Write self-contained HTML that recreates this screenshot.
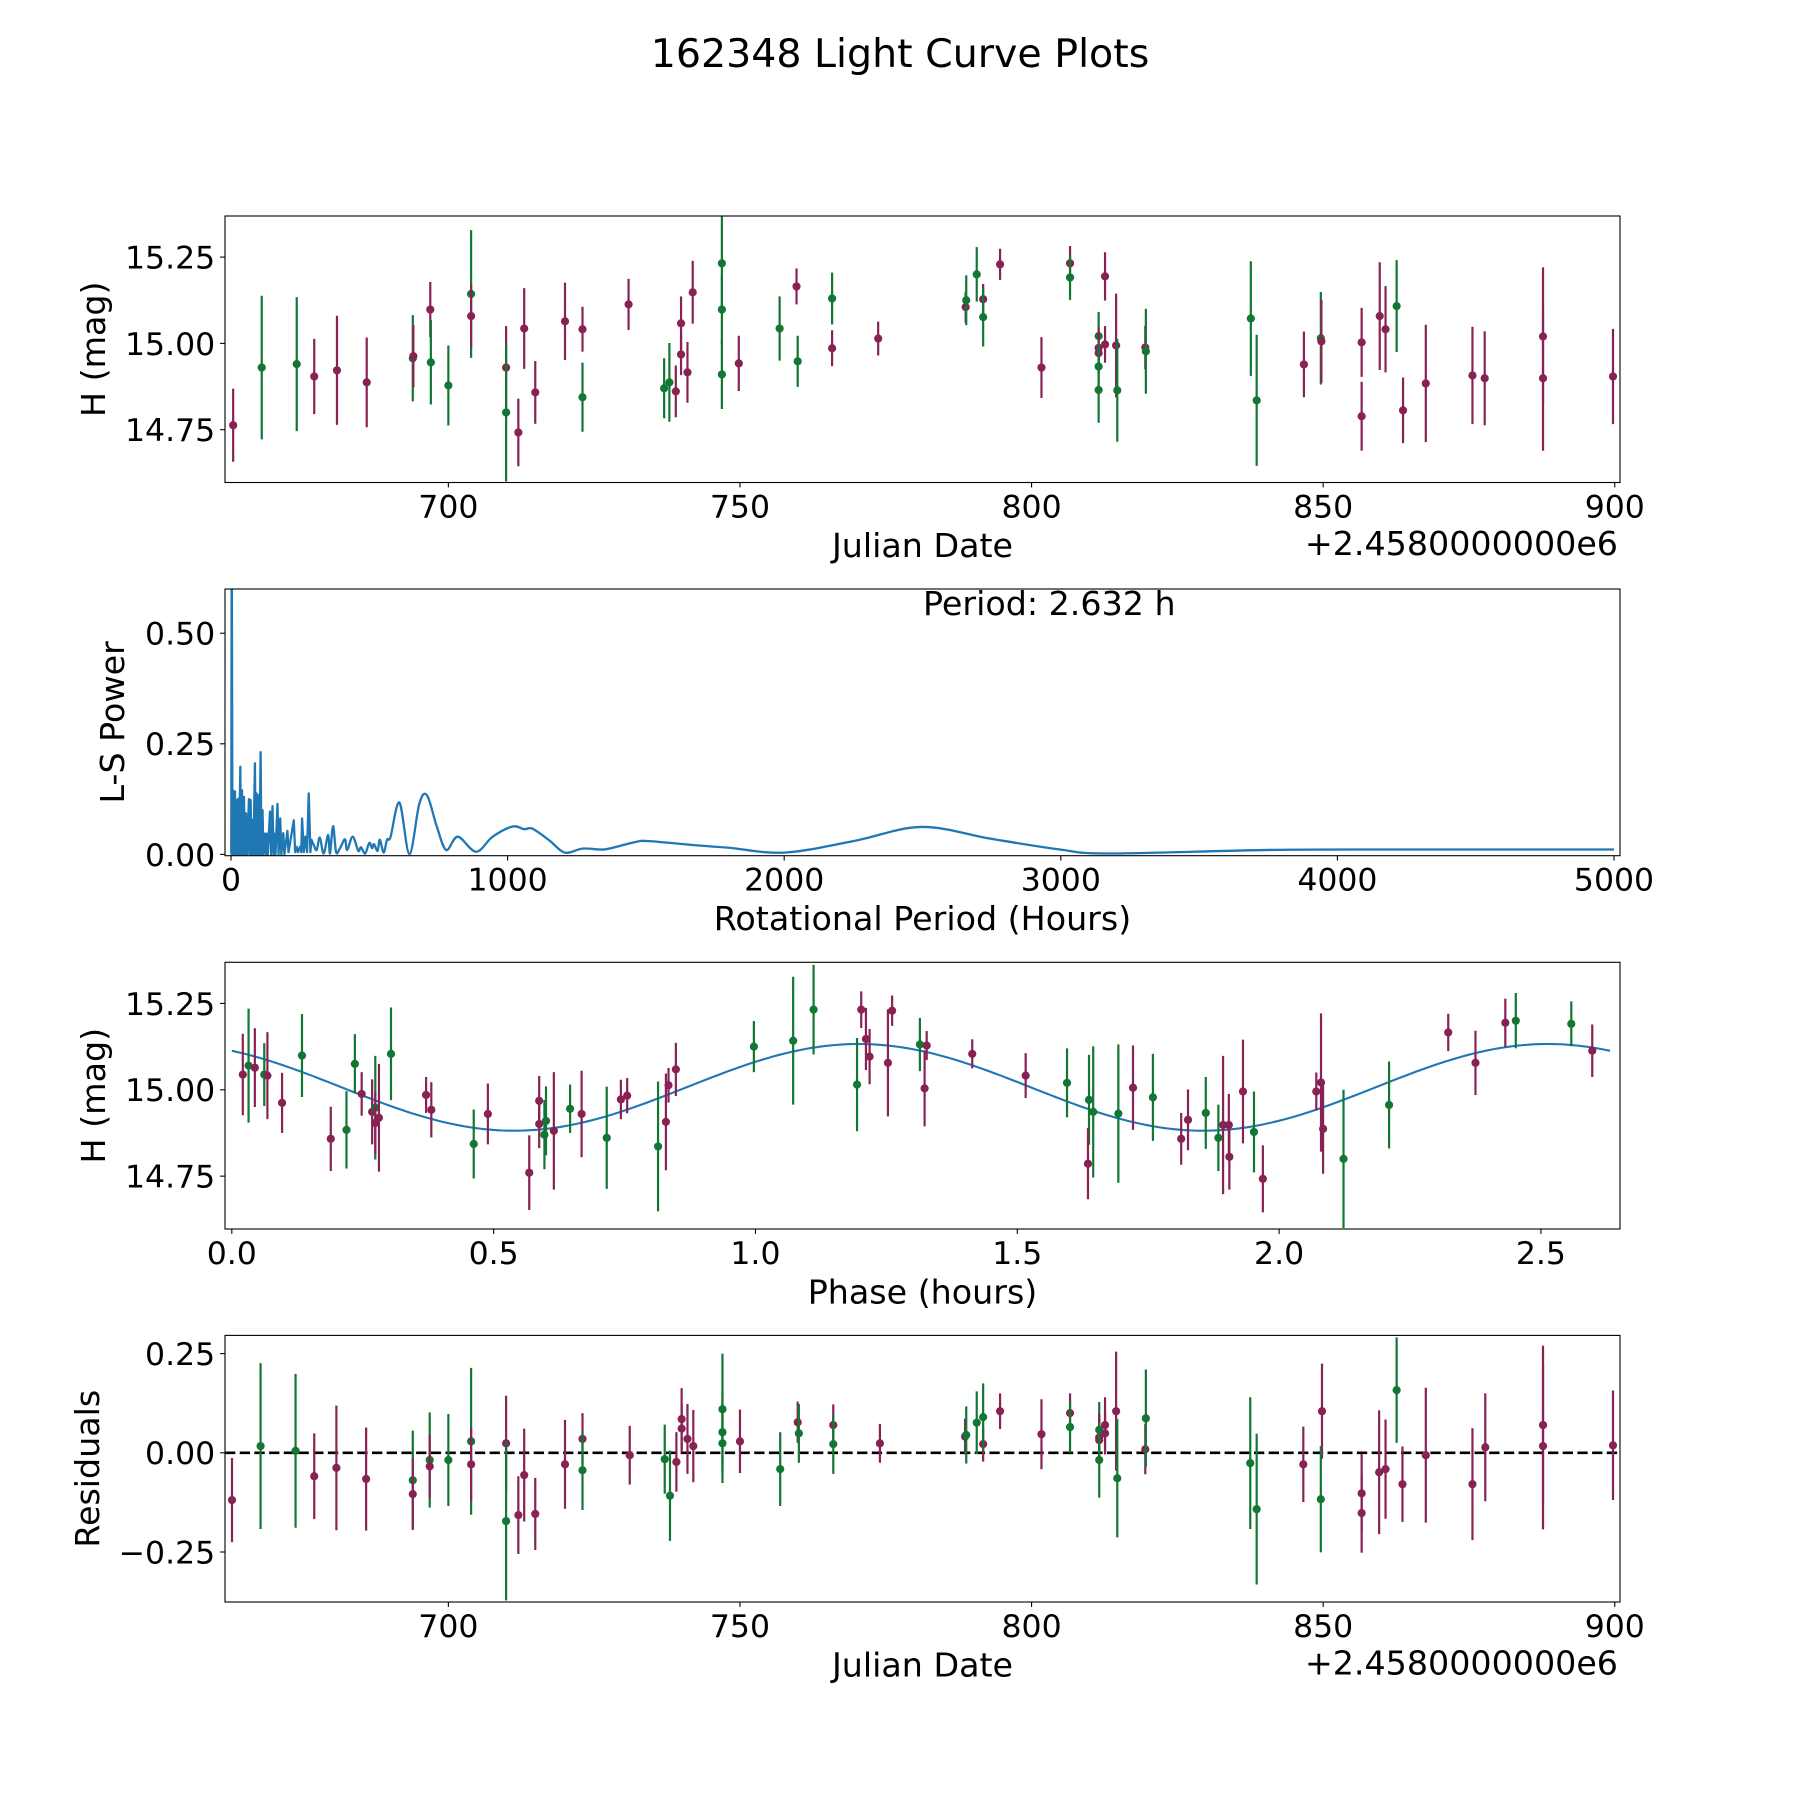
<!DOCTYPE html>
<html><head><meta charset="utf-8"><title>162348 Light Curve Plots</title>
<style>
html,body{margin:0;padding:0;background:#fff;}
svg{display:block;font-family:"DejaVu Sans","Liberation Sans",sans-serif;}
</style></head>
<body>
<svg id="fig" xmlns="http://www.w3.org/2000/svg" width="1800" height="1800" viewBox="0 0 1800 1800">
<rect x="0" y="0" width="1800" height="1800" fill="#fff"/>
<text x="900" y="67" font-size="39.5" text-anchor="middle" fill="#000">162348 Light Curve Plots</text>
</svg>
<script>
// ---------- Panel 1: light curve ----------
const lcDays = [663.1,668.0,674.0,677.0,680.9,686.0,693.9,694.0,696.9,697.0,700.0,703.9,703.9,709.9,709.9,712.0,713.0,714.9,720.0,723.0,723.0,730.9,737.0,737.9,739.0,739.9,739.9,741.0,741.9,746.9,746.9,746.9,749.8,756.8,759.7,759.9,765.8,765.8,773.7,788.7,788.8,790.6,791.7,791.7,794.6,801.7,806.6,806.6,811.5,811.5,811.5,811.5,811.5,812.6,812.6,814.5,814.7,819.5,819.6,837.6,838.6,846.7,849.6,849.7,856.6,856.6,859.7,860.7,862.6,863.7,867.6,875.6,877.7,887.7,887.7,899.7];
const lcMags = [14.763,14.930,14.940,14.904,14.922,14.887,14.957,14.963,15.098,14.945,14.878,15.143,15.079,14.930,14.800,14.742,15.043,14.858,15.064,15.041,14.844,15.113,14.870,14.887,14.861,15.058,14.968,14.916,15.148,15.232,15.098,14.910,14.942,15.043,15.165,14.948,15.130,14.986,15.014,15.105,15.125,15.200,15.128,15.076,15.229,14.930,15.232,15.191,15.021,14.987,14.972,14.933,14.865,15.194,14.997,14.994,14.864,14.988,14.977,15.072,14.835,14.939,15.015,15.006,15.003,14.789,15.079,15.041,15.108,14.806,14.884,14.907,14.899,15.020,14.899,14.904];
const lcErrs = [.106,.208,.194,.109,.158,.130,.125,.090,.080,.122,.116,.185,.092,.120,.200,.098,.117,.091,.112,.065,.100,.074,.087,.114,.075,.078,.060,.088,.091,.140,.100,.100,.080,.093,.052,.074,.075,.052,.049,.045,.072,.079,.044,.085,.045,.088,.050,.065,.070,.060,.060,.070,.095,.070,.053,.150,.149,.063,.123,.166,.190,.095,.134,.120,.100,.100,.156,.125,.133,.095,.170,.141,.136,.200,.210,.138];
const lcBand = "MGGMMMGMMGGGMMGMMMMMGMGGMMMMMGGGMGMGGMMMGGMGMMMGGMMGGMMMGMGGGMGMMMMMGMMMMMMM";

// ---------- Panel 2: periodogram ----------
const lsPeriods = [0,1,2.5,4,5,8.4,10,14.4,16,20.4,22,26.4,29,33.7,36,39.7,42,46.9,50,54.1,58,64.9,67,70.9,74,78.1,81,86.5,89,92.5,95,99.8,103,107,110,114,117,123,126,129,133,141,145,150,154,157,161,168,172,178,182,189,193,204,208,227,232,237,242,249,254,257,263,269,275,281,287,291,300,310,321,335,351,358,369,380,394,412,420,440,460,470,485,500,510,517,530,538,552,564,577,609,645,681,709,744,778,820,886,946,1018,1060,1090,1150,1207,1270,1334,1367,1463,1511,1691,1800,2000,2250,2496,2750,2997,3174,3755,4240,5000];
const lsPower = [0,0,0.75,0.364,0,0.144,0,0.142,0,0.123,0,0.126,0,0.198,0,0.145,0,0.130,0,0.093,0,0.125,0,0.123,0,0.078,0,0.206,0,0.138,0,0.134,0,0.231,0,0.100,0,0.047,0,0.047,0,0.097,0,0.109,0,0.047,0,0.114,0,0.081,0,0.048,0,0.053,0.005,0.077,0.005,0.017,0.005,0.017,0.005,0.081,0.005,0.040,0.005,0.138,0.005,0.033,0.02,0.01,0.038,0.002,0.044,0.002,0.064,0.005,0.014,0.034,0.01,0.040,0.008,0.016,0.002,0.026,0.014,0.023,0.008,0.033,0.004,0.033,0.040,0.117,0.001,0.115,0.133,0.063,0.010,0.040,0.006,0.040,0.063,0.057,0.058,0.032,0.004,0.013,0.011,0.013,0.028,0.030,0.020,0.015,0.004,0.030,0.062,0.035,0.011,0.002,0.010,0.011,0.011];
const bestPeriodLabel = "Period: 2.632 h";

// ---------- Panel 3: phased curve ----------
const phPhase = [.021,.032,.044,.062,.068,.096,.134,.189,.219,.235,.248,.268,.274,.274,.281,.304,.371,.381,.462,.489,.568,.587,.587,.597,.600,.615,.646,.668,.716,.743,.755,.814,.829,.834,.848,.997,1.072,1.111,1.194,1.202,1.211,1.218,1.253,1.261,1.314,1.327,1.323,1.414,1.516,1.595,1.637,1.635,1.645,1.693,1.721,1.759,1.813,1.826,1.860,1.884,1.893,1.904,1.905,1.931,1.952,1.969,2.071,2.080,2.084,2.123,2.210,2.323,2.375,2.432,2.452,2.558,2.598];
const phMags = [15.044,15.070,15.064,15.044,15.041,14.962,15.099,14.858,14.884,15.075,14.988,14.936,14.948,14.904,14.919,15.104,14.985,14.942,14.843,14.930,14.760,14.968,14.901,14.870,14.910,14.881,14.945,14.930,14.861,14.972,14.983,14.836,14.907,15.013,15.059,15.125,15.142,15.232,15.015,15.232,15.147,15.096,15.078,15.229,15.131,15.128,15.004,15.104,15.041,15.020,14.971,14.786,14.936,14.931,15.006,14.978,14.858,14.913,14.933,14.861,14.898,14.898,14.806,14.995,14.878,14.742,14.995,15.021,14.887,14.800,14.956,15.166,15.078,15.194,15.200,15.191,15.113];
const phErrs = [.118,.165,.114,.091,.126,.087,.120,.093,.112,.086,.063,.094,.150,.090,.156,.134,.052,.080,.100,.088,.108,.072,.070,.100,.100,.170,.070,.125,.148,.057,.051,.188,.140,.050,.077,.074,.185,.130,.135,.053,.090,.080,.155,.044,.077,.042,.110,.042,.065,.100,.130,.103,.190,.200,.122,.126,.075,.088,.104,.096,.200,.090,.095,.150,.117,.097,.055,.200,.130,.200,.126,.054,.093,.070,.080,.065,.076];
const phBand = "MGMGMMGMGGMMGMMGMMGMMMMGGMGMGMMGMMMGGGGMMMMMGMMMMGGMGGMGMMGGMMMMGMMMMGGMMMGGM";
const fitMean = 15.007, fitAmp = 0.1255, fitPeak = 1.197, fitPeriod = 2.632;

// ---------- Panel 4: residuals ----------
const rsDays = [662.9,667.8,673.8,677.0,680.8,685.9,693.9,693.9,696.8,696.8,700.0,703.9,703.9,709.9,709.9,712.0,713.0,714.9,720.0,723.0,723.0,731.1,737.1,738.0,739.1,740.0,740.0,741.0,742.0,747.0,747.0,747.0,750.0,756.9,759.9,760.1,766.0,766.0,774.0,788.6,788.8,790.6,791.7,791.7,794.6,801.7,806.6,806.6,811.6,811.6,811.6,811.6,812.6,812.6,814.5,814.7,819.5,819.6,837.5,838.6,846.6,849.8,849.6,856.6,856.6,859.6,860.7,862.6,863.6,867.6,875.6,877.8,887.7,887.7,899.7];
const rsVals = [-.119,.017,.005,-.059,-.038,-.066,-.069,-.104,-.018,-.034,-.018,.029,-.029,.024,-.172,-.157,-.056,-.154,-.029,.035,-.044,-.006,-.016,-.108,-.023,.085,.061,.035,.017,.110,.052,.024,.029,-.041,.077,.049,.070,.022,.024,.041,.045,.076,.022,.090,.105,.047,.100,.065,.058,.039,.032,-.018,.049,.070,.105,-.064,.009,.087,-.026,-.142,-.029,.105,-.117,-.102,-.152,-.049,-.041,.158,-.079,-.006,-.079,.014,.070,.017,.019];
const rsErrs = [.106,.209,.194,.108,.157,.130,.125,.090,.120,.080,.116,.185,.092,.120,.200,.098,.117,.091,.112,.065,.100,.074,.087,.114,.075,.078,.060,.088,.091,.140,.100,.100,.080,.093,.052,.074,.052,.075,.049,.045,.072,.079,.044,.085,.045,.088,.050,.065,.070,.060,.060,.095,.053,.070,.150,.149,.063,.123,.166,.190,.095,.120,.134,.100,.100,.156,.125,.133,.095,.170,.141,.136,.200,.210,.138];
const rsBand = "MGGMMMGMGMGGMMGMMMMMGMGGMMMMMGGGMGMGMGMMGGMGMMMGGMMGMMMGMGGGMMGMMMMGMMMMMMM";

const dateTicks = [700,750,800,850,900];
const magTicks = [14.75,15.00,15.25];
const magTickLabels = ["14.75","15.00","15.25"];
const periodTicks = [0,1000,2000,3000,4000,5000];
const powerTicks = [0,0.25,0.5];
const powerTickLabels = ["0.00","0.25","0.50"];
const phaseTicks = [0,0.5,1,1.5,2,2.5];
const phaseTickLabels = ["0.0","0.5","1.0","1.5","2.0","2.5"];
const resTicks = [-0.25,0,0.25];
const resTickLabels = ["\u22120.25","0.00","0.25"];

const NS = "http://www.w3.org/2000/svg";
const svg = document.getElementById('fig');
const COL = {M:"#882255", G:"#117733"};
const AX_L = 225, AX_R = 1620;
const TICK_FS = 31.5, LAB_FS = 33.3, OFF_FS = 33.3;

function mk(tag, attrs, parent){
  const e = document.createElementNS(NS, tag);
  for (const k in attrs) e.setAttribute(k, attrs[k]);
  (parent||svg).appendChild(e);
  return e;
}
function scale(d0,d1,r0,r1){ return v => r0 + (v-d0)*(r1-r0)/(d1-d0); }

function makeAxes(name, top, bot, xlim, ylim){
  const g = mk('g', {});
  
  
  const sx = scale(xlim[0], xlim[1], AX_L, AX_R);
  const sy = scale(ylim[0], ylim[1], bot, top);
  const cid = name + '-clip';
  const cp = mk('clipPath', {id: cid}, g);
  mk('rect', {x:AX_L, y:top, width:AX_R-AX_L, height:bot-top}, cp);
  const plot = mk('g', {'clip-path':'url(#'+cid+')'}, g);
  
  
  return {g, plot, sx, sy, top, bot};
}
function frame(ax){
  const r = mk('rect', {x:AX_L, y:ax.top, width:AX_R-AX_L, height:ax.bot-ax.top, fill:'none', stroke:'#000', 'stroke-width':1.1}, ax.g);
  
  
}
function xTicks(ax, ticks, labels, prefix){
  ticks.forEach((t,i) => {
    const x = ax.sx(t);
    mk('line', {x1:x, x2:x, y1:ax.bot, y2:ax.bot+4.9, stroke:'#000', 'stroke-width':1.1}, ax.g);
    const tx = mk('text', {x:x, y:ax.bot+35, 'font-size':TICK_FS, 'text-anchor':'middle', fill:'#000'}, ax.g);
    tx.textContent = labels[i];
    
    
  });
}
function yTicks(ax, ticks, labels, prefix){
  ticks.forEach((t,i) => {
    const y = ax.sy(t);
    mk('line', {x1:AX_L-4.9, x2:AX_L, y1:y, y2:y, stroke:'#000', 'stroke-width':1.1}, ax.g);
    const tx = mk('text', {x:AX_L-9.8, y:y+11.4, 'font-size':TICK_FS, 'text-anchor':'end', fill:'#000'}, ax.g);
    tx.textContent = labels[i];
    
    
  });
}
function xLabel(ax, txt, nm){
  const t = mk('text', {x:(AX_L+AX_R)/2, y:ax.bot+74.5, 'font-size':LAB_FS, 'text-anchor':'middle', fill:'#000'}, ax.g);
  t.textContent = txt;
  
  
}
function yLabel(ax, txt, bx, nm){
  const cy = (ax.top+ax.bot)/2;
  const t = mk('text', {x:bx, y:cy, 'font-size':LAB_FS, 'text-anchor':'middle', fill:'#000', transform:'rotate(-90 '+bx+' '+cy+')'}, ax.g);
  t.textContent = txt;
  
  
}
function offsetText(ax, nm){
  const t = mk('text', {x:1618, y:ax.bot+72.5, 'font-size':OFF_FS, 'text-anchor':'end', fill:'#000'}, ax.g);
  t.textContent = '+2.4580000000e6';
  
  
}
function errPoints(ax, xs, ys, es, bands, nm){
  for (let i=0;i<xs.length;i++){
    const c = COL[bands[i]];
    const x = ax.sx(xs[i]);
    const bar = mk('line', {x1:x, x2:x, y1:ax.sy(ys[i]-es[i]), y2:ax.sy(ys[i]+es[i]), stroke:c, 'stroke-width':2.2}, ax.plot);
    
    
    const dot = mk('circle', {cx:x, cy:ax.sy(ys[i]), r:4.1, fill:c}, ax.plot);
    
    
  }
}

// Panel 1
const ax1 = makeAxes('light-curve-panel', 216, 482.5, [661.7, 900.9], [14.597, 15.369]);
errPoints(ax1, lcDays, lcMags, lcErrs, lcBand, 'light-curve');
frame(ax1);
xTicks(ax1, dateTicks, dateTicks.map(String), 'julian-date');
yTicks(ax1, magTicks, magTickLabels, 'magnitude');
xLabel(ax1, 'Julian Date', 'julian-date-axis-title');
yLabel(ax1, 'H (mag)', 105, 'magnitude-axis-title');
offsetText(ax1, 'julian-date-offset');

// Panel 2 (spiky region straight segments, smooth region Catmull-Rom)
const ax2 = makeAxes('periodogram-panel', 589, 855.7, [-21.7, 5021.7], [-0.003, 0.6]);
const P = lsPeriods.map((p,i) => [ax2.sx(p), ax2.sy(lsPower[i])]);
let d = 'M' + P[0][0].toFixed(2) + ' ' + P[0][1].toFixed(2);
for (let i=1;i<P.length;i++){
  if (lsPeriods[i] <= 300){ d += 'L' + P[i][0].toFixed(2) + ' ' + P[i][1].toFixed(2); continue; }
  const p0 = P[Math.max(i-2,0)], p1 = P[i-1], p2 = P[i], p3 = P[Math.min(i+1,P.length-1)];
  const c1x = p1[0] + (p2[0]-p0[0])/6, c1y = p1[1] + (p2[1]-p0[1])/6;
  const c2x = p2[0] - (p3[0]-p1[0])/6, c2y = p2[1] - (p3[1]-p1[1])/6;
  d += 'C' + c1x.toFixed(2) + ' ' + Math.min(c1y, ax2.bot+1).toFixed(2) + ' ' + c2x.toFixed(2) + ' ' + Math.min(c2y, ax2.bot+1).toFixed(2) + ' ' + p2[0].toFixed(2) + ' ' + p2[1].toFixed(2);
}
const pl = mk('path', {d:d, fill:'none', stroke:'#1f77b4', 'stroke-width':2.3, 'stroke-linejoin':'round'}, ax2.plot);


frame(ax2);
xTicks(ax2, periodTicks, periodTicks.map(String), 'period');
yTicks(ax2, powerTicks, powerTickLabels, 'power');
xLabel(ax2, 'Rotational Period (Hours)', 'period-axis-title');
yLabel(ax2, 'L-S Power', 124, 'power-axis-title');
const pt = mk('text', {x:923, y:615, 'font-size':LAB_FS, fill:'#000'}, ax2.g);
pt.textContent = bestPeriodLabel;



// Panel 3
const ax3 = makeAxes('phase-panel', 962.3, 1229, [-0.013, 2.651], [14.597, 15.369]);
let fd = '';
for (let k=0;k<=300;k++){
  const p = fitPeriod*k/300;
  const m = fitMean + fitAmp*Math.cos(2*Math.PI*(p-fitPeak)/(fitPeriod/2));
  fd += (k?'L':'M') + ax3.sx(p).toFixed(2) + ' ' + ax3.sy(m).toFixed(2);
}
const fl = mk('path', {d:fd, fill:'none', stroke:'#1f77b4', 'stroke-width':2.1}, ax3.plot);


errPoints(ax3, phPhase, phMags, phErrs, phBand, 'phased');
frame(ax3);
xTicks(ax3, phaseTicks, phaseTickLabels, 'phase');
yTicks(ax3, magTicks, magTickLabels, 'phased-magnitude');
xLabel(ax3, 'Phase (hours)', 'phase-axis-title');
yLabel(ax3, 'H (mag)', 105, 'phased-magnitude-axis-title');

// Panel 4
const ax4 = makeAxes('residuals-panel', 1335.4, 1602, [661.7, 900.9], [-0.376, 0.296]);
const zl = mk('line', {x1:AX_L, x2:AX_R, y1:ax4.sy(0), y2:ax4.sy(0), stroke:'#000', 'stroke-width':2.6, 'stroke-dasharray':'10.3 4.4'}, ax4.plot);


errPoints(ax4, rsDays, rsVals, rsErrs, rsBand, 'residual');
frame(ax4);
xTicks(ax4, dateTicks, dateTicks.map(String), 'residual-date');
yTicks(ax4, resTicks, resTickLabels, 'residual');
xLabel(ax4, 'Julian Date', 'residual-date-axis-title');
yLabel(ax4, 'Residuals', 99, 'residuals-axis-title');
offsetText(ax4, 'residual-date-offset');
</script>
</body></html>
